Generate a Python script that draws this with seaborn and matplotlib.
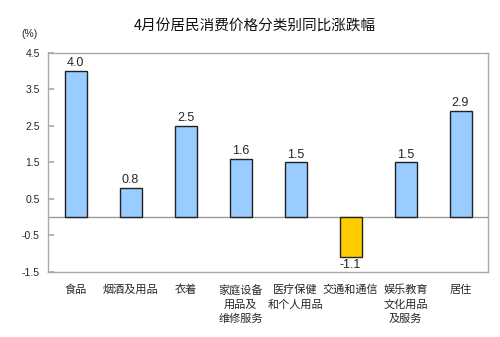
import matplotlib
matplotlib.use("Agg")
import matplotlib.pyplot as plt
import seaborn as sns
import pandas as pd

categories = ["食品", "烟酒及用品", "衣着", "家庭设备\n用品及\n维修服务", "医疗保健\n和个人用品",
              "交通和通信", "娱乐教育\n文化用品\n及服务", "居住"]
values = [4.0, 0.8, 2.5, 1.6, 1.5, -1.1, 1.5, 2.9]
yticks = [4.5, 3.5, 2.5, 1.5, 0.5, -0.5, -1.5]

sns.set_theme(style="white")
plt.rcParams['font.family'] = ['Noto Sans CJK SC', 'DejaVu Sans']

df = pd.DataFrame({"cat": categories, "val": values})
colors = ["#FFCC00" if v < 0 else "#99CCFF" for v in values]

fig = plt.figure(figsize=(5, 3.37), dpi=100)
ax = fig.add_axes([0.096, 0.193, 0.88, 0.65])
sns.barplot(data=df, x="cat", y="val", hue="cat", palette=colors, legend=False,
            width=0.4, edgecolor="#222222", linewidth=1.0, ax=ax, saturation=1)

ax.set_ylim(-1.5, 4.5)
ax.set_yticks(yticks)
ax.set_yticklabels([f"{t:.1f}" for t in yticks], fontsize=7.5, family=['Liberation Sans'])
ax.axhline(0, color="#999999", linewidth=1.0, zorder=0)
for s in ax.spines.values():
    s.set_color("#AAAAAA")
    s.set_linewidth(1.0)
ax.tick_params(axis='y', direction='in', length=4, color="#AAAAAA", pad=6, left=True)
ax.tick_params(axis='x', length=0, labelsize=8, pad=9)
for lbl in ax.get_xticklabels():
    lbl.set_linespacing(1.5)
ax.set_xlabel("")
ax.set_ylabel("")

for i, v in enumerate(values):
    if v >= 0:
        ax.text(i, v + 0.05, f"{v:.1f}", ha="center", va="bottom", fontsize=9,
                family=['Liberation Sans'])
    else:
        ax.text(i, v - 0.05, f"{v:.1f}", ha="center", va="top", fontsize=9,
                family=['Liberation Sans'])

fig.text(0.51, 0.925, "4月份居民消费价格分类别同比涨跌幅", ha="center", va="center",
         fontsize=10.5, color="#111111")
fig.text(0.06, 0.9, "(%)", ha="center", va="center", fontsize=7.5, family=['Liberation Sans'])

fig.savefig("out.png", dpi=100)
